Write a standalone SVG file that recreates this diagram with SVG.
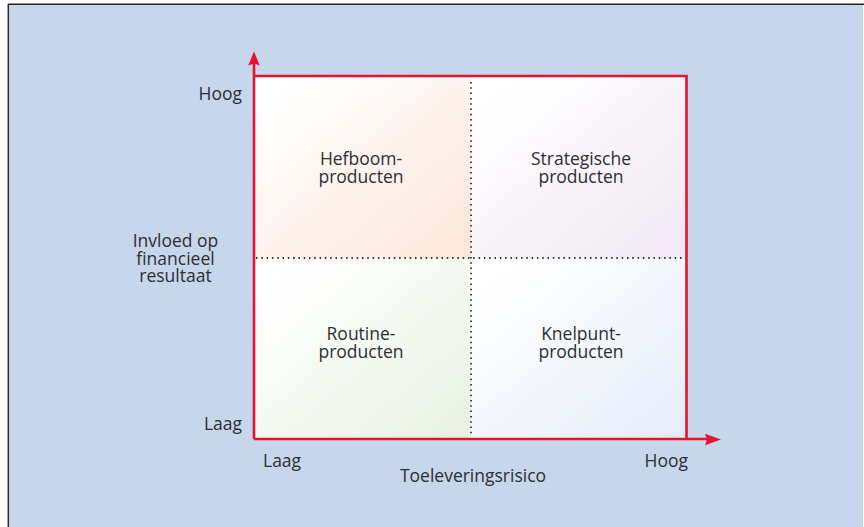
<svg xmlns="http://www.w3.org/2000/svg" width="864" height="527" viewBox="0 0 864 527">
  <style>
    .lbl { font-family: "Open Sans", "Liberation Sans", sans-serif; font-size: 17.5px; fill: #2e2e33; }
    .mid { text-anchor: middle; }
    .end { text-anchor: end; }
    .axis { stroke: #e4132f; stroke-width: 2.6; fill: none; }
    .grid { stroke: #333; stroke-width: 1.8; stroke-dasharray: 1.5 3.8; fill: none; }
  </style>
  <defs>
    <linearGradient id="gTL" x1="0" y1="0" x2="1" y2="1">
      <stop offset="0.1" stop-color="#ffffff"/>
      <stop offset="1" stop-color="#fce6d9"/>
    </linearGradient>
    <linearGradient id="gTR" x1="0" y1="0" x2="1" y2="1">
      <stop offset="0.1" stop-color="#ffffff"/>
      <stop offset="1" stop-color="#efe7f1"/>
    </linearGradient>
    <linearGradient id="gBL" x1="0" y1="0" x2="1" y2="1">
      <stop offset="0.1" stop-color="#ffffff"/>
      <stop offset="1" stop-color="#e8f1e2"/>
    </linearGradient>
    <linearGradient id="gBR" x1="0" y1="0" x2="1" y2="1">
      <stop offset="0.1" stop-color="#ffffff"/>
      <stop offset="1" stop-color="#e5ecf7"/>
    </linearGradient>
  </defs>

  <!-- page and panel -->
  <rect width="864" height="527" fill="#ffffff"/>
  <rect x="8" y="4" width="855" height="523" fill="#c6d6eb"/>
  <line x1="8" y1="4.3" x2="864" y2="4.3" stroke="#222" stroke-width="1.4"/>
  <line x1="8.3" y1="4" x2="8.3" y2="527" stroke="#2a2a2a" stroke-width="1.5"/>

  <!-- quadrants -->
  <g id="q-hefboom">
    <rect x="254" y="76" width="217" height="182" fill="url(#gTL)"/>
    <text class="lbl mid" x="361" y="165">Hefboom-</text>
    <text class="lbl mid" x="361" y="183">producten</text>
  </g>
  <g id="q-strategisch">
    <rect x="471" y="76" width="215.5" height="182" fill="url(#gTR)"/>
    <text class="lbl mid" x="581" y="165">Strategische</text>
    <text class="lbl mid" x="581" y="183">producten</text>
  </g>
  <g id="q-routine">
    <rect x="254" y="258" width="217" height="181" fill="url(#gBL)"/>
    <text class="lbl mid" x="361" y="340">Routine-</text>
    <text class="lbl mid" x="361" y="358">producten</text>
  </g>
  <g id="q-knelpunt">
    <rect x="471" y="258" width="215.5" height="181" fill="url(#gBR)"/>
    <text class="lbl mid" x="581" y="340">Knelpunt-</text>
    <text class="lbl mid" x="581" y="358">producten</text>
  </g>

  <!-- axes, frame and dividers -->
  <g id="connectors">
    <line class="grid" x1="471" y1="82" x2="471" y2="435"/>
    <line class="grid" x1="256" y1="258" x2="690" y2="258"/>
    <polyline class="axis" points="254,76 686.5,76 686.5,439"/>
    <line class="axis" x1="254" y1="439" x2="254" y2="62"/>
    <line class="axis" x1="254" y1="439" x2="710" y2="439"/>
    <polygon points="254,51.5 259.8,65.5 254,63.5 248.2,65.5" fill="#e4132f"/>
    <polygon points="721,439.5 705,445.3 707,439.5 705,433.7" fill="#e4132f"/>
  </g>

  <!-- axis labels -->
  <g id="y-axis-labels">
    <text class="lbl end" x="242" y="100">Hoog</text>
    <text class="lbl end" x="242" y="430">Laag</text>
    <text class="lbl mid" x="175.5" y="247">Invloed op</text>
    <text class="lbl mid" x="175.5" y="264.5">financieel</text>
    <text class="lbl mid" x="175.5" y="282">resultaat</text>
  </g>
  <g id="x-axis-labels">
    <text class="lbl" x="263" y="467">Laag</text>
    <text class="lbl end" x="688" y="467">Hoog</text>
    <text class="lbl mid" x="473" y="482">Toeleveringsrisico</text>
  </g>
</svg>
